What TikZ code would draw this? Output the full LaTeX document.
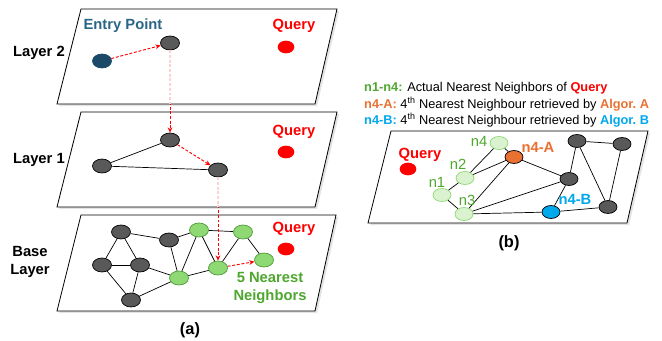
\documentclass[tikz,border=0pt]{standalone}
\usepackage{fontspec}
\setmainfont{Liberation Sans}
\usetikzlibrary{arrows.meta, positioning, shapes.geometric, shadows}

\definecolor{qred}{HTML}{FF0000}
\definecolor{teal}{HTML}{1B4A68}
\definecolor{tealtext}{HTML}{2A6787}
\definecolor{darknode}{HTML}{595959}
\definecolor{nngreen}{HTML}{8ED973}
\definecolor{nnline}{HTML}{4E9A35}
\definecolor{nntext}{HTML}{4EA72E}
\definecolor{palegreen}{HTML}{DAF2D0}
\definecolor{algA}{HTML}{E97132}
\definecolor{algB}{HTML}{00A8EC}

\newcommand\labfont{\fontsize{12.6}{14}\selectfont\bfseries}
\newcommand\legfont{\fontsize{10.9}{13}\selectfont}

\begin{document}
\begin{tikzpicture}[
    x=0.03cm,
    y=-0.03cm,
    >={Stealth[length=4.5pt,width=4pt]},
    plane/.style={draw, line width=0.7pt, fill=white,
        drop shadow={shadow xshift=1.8pt, shadow yshift=-1.8pt, opacity=0.22}},
    dark/.style={ellipse, draw, line width=0.6pt, inner sep=0pt,
        minimum width=0.57cm, minimum height=0.42cm, fill=darknode},
    entry/.style={dark, fill=teal, draw=teal},
    hit/.style={dark, fill=nngreen, draw=nnline},
    query/.style={ellipse, inner sep=0pt, minimum width=0.5cm,
        minimum height=0.38cm, fill=qred},
    small/.style={dark, minimum width=0.54cm, minimum height=0.39cm},
    pale/.style={small, fill=palegreen, draw=nngreen},
    link/.style={line width=0.6pt},
    hop/.style={->, qred, line width=0.8pt, dash pattern=on 2.5pt off 1.5pt},
    ghost/.style={qred!18, line width=1.1pt, dash pattern=on 2.5pt off 1.5pt},
    lab/.style={font=\labfont, inner sep=0pt},
    leg/.style={font=\legfont, inner sep=0pt, anchor=west},
]
    \useasboundingbox (0,0) rectangle (662,341);

    % ---------------- (a) ----------------
    \draw[plane] (81,215) -- (336,215) -- (315,311) -- (57,311) -- cycle;

    \node[dark] (g1) at (121,232) {};
    \node[dark] (g2) at (169,240) {};
    \node[dark] (g3) at (102,265) {};
    \node[dark] (g4) at (140,265) {};
    \node[dark] (g5) at (131,300) {};
    \node[hit]  (e1) at (199,230) {};
    \node[hit]  (e2) at (243,232) {};
    \node[hit]  (e3) at (218,268) {};
    \node[hit]  (e4) at (179,278) {};
    \node[hit]  (e5) at (264,260) {};
    \node[query] (q0) at (286,249) {};

    \path[link]
        (g1) edge (g2)
        (g1) edge (g3)
        (g1) edge (g4)
        (g3) edge (g4)
        (g3) edge (g5)
        (g4) edge (g5)
        (g4) edge (e4)
        (g5) edge (e4)
        (g2) edge (e4)
        (g2) edge (e1)
        (e1) edge (e4)
        (e1) edge (e3)
        (e1) edge (e2)
        (e2) edge (e3)
        (e2) edge (e5)
        (e4) edge (e3)
    ;
    \draw[hop] (e3) -- (e5);

    \draw[plane] (81,112) -- (337,112) -- (315,207) -- (57,207) -- cycle;

    \node[dark]  (a1) at (102,166) {};
    \node[dark]  (b1) at (170,140) {};
    \node[dark]  (c1) at (218,170) {};
    \node[query] (q1) at (286,152) {};

    \path[link]
        (a1) edge (b1)
        (a1) edge (c1)
    ;
    \draw[hop] (b1) -- (c1);

    \coordinate (cut1) at (218,207);
    \draw[hop] (c1) -- (e3);
    \draw[ghost] (c1) -- (cut1);

    \draw[plane] (81,9) -- (337,9) -- (315,104) -- (57,104) -- cycle;

    \node[entry] (ep) at (102,61) {};
    \node[dark]  (b2) at (170,43) {};
    \node[query] (q2) at (286,47) {};

    \draw[hop] (ep) -- (b2);

    \coordinate (cut2) at (170,104);
    \draw[hop] (b2) -- (b1);
    \draw[ghost] (b2) -- (cut2);

    % labels of (a)
    \node[lab, anchor=east] (L2) at (65,53) {Layer 2};
    \node[lab, anchor=east] (L1) at (65,160) {Layer 1};
    \node[lab, align=center] (L0) at (30,262) {Base\\[2pt]Layer};
    \node[lab, tealtext] (eptxt) at (123,26) {Entry Point};
    \node[lab, qred] (q2txt) at (294,26) {Query};
    \node[lab, qred] (q1txt) at (294,132) {Query};
    \node[lab, qred] (q0txt) at (294,229) {Query};
    \node[lab, nntext, align=center] (nntxt) at (270,288) {5 Nearest\\[2pt]Neighbors};
    \node[lab, font=\fontsize{14}{16}\selectfont\bfseries] (capa) at (190,330) {(a)};

    % ---------------- (b) ----------------
    \node[leg] (leg1) at (364,88)
        {\textbf{\color{nntext}n1-n4:} Actual Nearest Neighbors of \textbf{\color{qred}Query}};
    \node[leg] (leg2) at (364,104)
        {\textbf{\color{algA}n4-A:} 4\textsuperscript{th} Nearest Neighbour retrieved by \textbf{\color{algA}Algor.\ A}};
    \node[leg] (leg3) at (364,120)
        {\textbf{\color{algB}n4-B:} 4\textsuperscript{th} Nearest Neighbour retrieved by \textbf{\color{algB}Algor.\ B}};

    \draw[plane] (391,131) -- (648,131) -- (627,223) -- (368,223) -- cycle;

    \node[query] (qb) at (408,169) {};
    \node[pale]  (n1) at (442,195) {};
    \node[pale]  (n2) at (465,178) {};
    \node[pale]  (n3) at (464,214) {};
    \node[pale]  (n4) at (499,143) {};
    \node[small, fill=algA, draw=black] (nA) at (514,157) {};
    \node[small, fill=algB, draw=black] (nB) at (551,212) {};
    \node[small] (d1) at (577,141) {};
    \node[small] (d2) at (622,144) {};
    \node[small] (d3) at (569,179) {};
    \node[small] (d4) at (608,207) {};

    \path[link]
        (n1) edge (n2)
        (n2) edge (n4)
        (n1) edge (n3)
        (n2) edge (nA)
        (n3) edge (nA)
        (n4) edge (nA)
        (nA) edge (d3)
        (n3) edge (d3)
        (n3) edge (nB)
        (nB) edge (d3)
        (nB) edge (d4)
        (d3) edge (d1)
        (d1) edge (d2)
        (d1) edge (d4)
        (d2) edge (d4)
    ;

    \node[lab, qred] (qbtxt) at (420,155) {Query};
    \node[lab, nntext, font=\fontsize{12.6}{14}\selectfont] (t4) at (479,141) {n4};
    \node[lab, nntext, font=\fontsize{12.6}{14}\selectfont] (t2) at (458,164) {n2};
    \node[lab, nntext, font=\fontsize{12.6}{14}\selectfont] (t1) at (437,182) {n1};
    \node[lab, nntext, font=\fontsize{12.6}{14}\selectfont] (t3) at (467,200) {n3};
    \node[lab, algA] (tA) at (538,147) {n4-A};
    \node[lab, algB] (tB) at (575,199) {n4-B};
    \node[lab, font=\fontsize{14}{16}\selectfont\bfseries] (capb) at (509,243) {(b)};
\end{tikzpicture}
\end{document}
